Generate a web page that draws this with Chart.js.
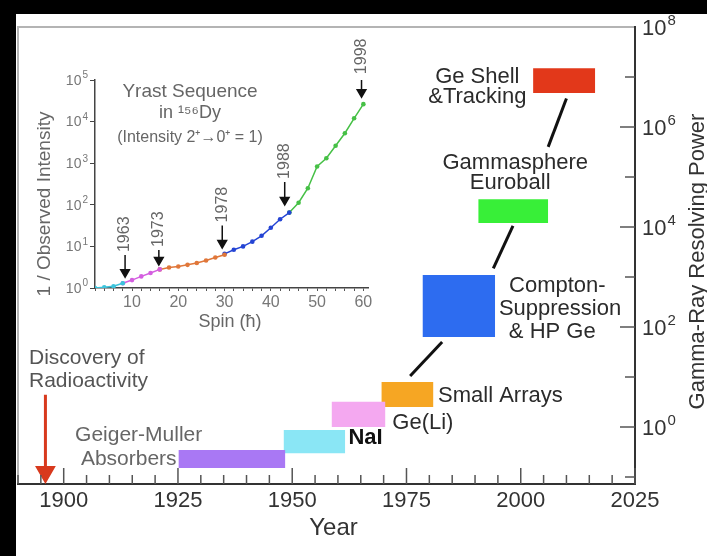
<!DOCTYPE html>
<html lang="en">
<head>
<meta charset="utf-8">
<title>Gamma-Ray Resolving Power</title>
<script src="https://cdn.jsdelivr.net/npm/chart.js@4.4.1/dist/chart.umd.min.js"></script>
<style>
    html, body { margin: 0; padding: 0; background: #000; }
    #wrap { position: relative; width: 707px; height: 556px; }
    #wrap canvas { position: absolute; left: 0; top: 0; }
</style>
</head>
<body>
<div id="wrap">
    <canvas id="main-chart" width="707" height="556"></canvas>
    <canvas id="inset-chart" width="707" height="556"></canvas>
</div>
<script>
// 年の目盛り
const yearTicks = [1900, 1925, 1950, 1975, 2000, 2025];
// 分解能の目盛り（10のべき）
const powerTicks = [0, 2, 4, 6, 8];

// 検出器ごとの箱（開始年・終了年・分解能の下限と上限）
const detectorNames = ['Geiger-Muller Absorbers', 'NaI', 'Ge(Li)', 'Small Arrays', 'Compton-Suppression & HP Ge', 'Gammasphere Euroball', 'Ge Shell & Tracking'];
const detectorStart = [1925.1, 1948.1, 1958.6, 1969.5, 1978.5, 1990.7, 2002.7];
const detectorEnd = [1948.5, 1961.6, 1970.4, 1980.9, 1994.4, 2006.0, 2016.3];
const detectorLow = [0.151, 0.30, 1.0, 2.5, 63, 12000, 4.8e6];
const detectorHigh = [0.347, 0.87, 3.2, 7.9, 1100, 36000, 1.5e7];
const detectorColors = ['#a978f4', '#8ae6f5', '#f4a8f0', '#f6a623', '#2d6cf0', '#38ef38', '#e2381a'];

// 箱をつなぐ線
const linkYears = [[1975.8, 1982.8], [1994.0, 1998.3], [2006.0, 2010.0]];
const linkValues = [[10.5, 50], [1480, 10500], [4.0e5, 3.7e6]];

// 放射能の発見（矢印）
const discoveryYear = 1896;
const discoveryValues = [4.4, 0.126];

// 挿入図：156Dy のイラスト系列
const spinTicks = [10, 20, 30, 40, 50, 60];
const intensityTicks = [0, 1, 2, 3, 4, 5];
const yrastColors = ['#3cc4dc', '#d45ee0', '#e0773a', '#2444d4', '#46c046'];
const yrastSpins = [
    [2, 4, 6, 8],
    [8, 10, 12, 14, 16],
    [16, 18, 20, 22, 24, 26, 28, 30],
    [30, 32, 34, 36, 38, 40, 42, 44],
    [44, 46, 48, 50, 52, 54, 56, 58, 60]
];
const yrastValues = [
    [1.0, 1.04, 1.1, 1.3],
    [1.3, 1.55, 1.9, 2.3, 2.8],
    [2.8, 3.1, 3.3, 3.6, 4.0, 4.6, 5.4, 6.3],
    [6.6, 8.3, 10, 13, 18, 28, 45, 65],
    [65, 112, 250, 830, 1320, 2630, 5250, 12000, 26300]
];
// 年ごとの到達点（矢印）
const markYears = ['1963', '1973', '1978', '1988', '1998'];
const markSpins = [8.5, 15.8, 29.5, 43, 59.6];
const markTop = [6.2, 8.2, 32, 355, 117000];
const markEnd = [2.4, 4.7, 12, 131, 51000];

const FAM = "'Liberation Sans', Arial, sans-serif";
Chart.defaults.font.family = FAM;

function drawLine(c, x1, y1, x2, y2) {
    c.beginPath();
    c.moveTo(x1, y1);
    c.lineTo(x2, y2);
    c.stroke();
}

// 10のべき乗ラベル（上付きは小さい文字で）
function drawPow(c, x, y, p, size, supSize, align) {
    c.font = size + 'px ' + FAM;
    const w1 = c.measureText('10').width;
    c.font = supSize + 'px ' + FAM;
    const w2 = c.measureText(String(p)).width;
    const x0 = align === 'right' ? x - w1 - w2 : x;
    c.textAlign = 'left';
    c.textBaseline = 'middle';
    c.font = size + 'px ' + FAM;
    c.fillText('10', x0, y);
    c.font = supSize + 'px ' + FAM;
    c.fillText(String(p), x0 + w1 + 1, y - size * 0.38);
}

// 本体の注記（年・log値で位置を指定）
const mainNotes = [
    { text: 'Ge Shell', year: 1990.5, logv: 7.0, align: 'center' },
    { text: '&Tracking', year: 1990.5, logv: 6.6, align: 'center' },
    { text: 'Gammasphere', year: 1998.8, logv: 5.28, align: 'center' },
    { text: 'Euroball', year: 1997.7, logv: 4.88, align: 'center' },
    { text: 'Compton-', year: 2008.0, logv: 2.82, align: 'center' },
    { text: 'Suppression', year: 2008.6, logv: 2.36, align: 'center' },
    { text: '& HP Ge', year: 2006.9, logv: 1.9, align: 'center' },
    { text: 'Small Arrays', year: 1981.9, logv: 0.62, align: 'left' },
    { text: 'Ge(Li)', year: 1971.9, logv: 0.08, align: 'left' },
    { text: 'NaI', year: 1962.3, logv: -0.22, align: 'left', bold: true, color: '#111' },
    { text: 'Geiger-Muller', year: 1916.4, logv: -0.16, align: 'center', color: '#666', size: 21 },
    { text: 'Absorbers', year: 1924.7, logv: -0.64, align: 'right', color: '#666', size: 21 },
    { text: 'Discovery of', year: 1892.4, logv: 1.38, align: 'left', color: '#555', size: 21 },
    { text: 'Radioactivity', year: 1892.4, logv: 0.92, align: 'left', color: '#555', size: 21 }
];

const mainDecor = {
    id: 'mainDecor',
    beforeDraw(chart) {
        const c = chart.ctx;
        const a = chart.chartArea;
        c.save();
        c.fillStyle = '#000';
        c.fillRect(0, 0, chart.width, chart.height);
        c.fillStyle = '#fff';
        c.fillRect(16, 14, chart.width - 16, chart.height - 14);
        // 上と左の枠
        c.strokeStyle = '#b4b4b4';
        c.lineWidth = 2;
        c.beginPath();
        c.moveTo(a.left, a.bottom);
        c.lineTo(a.left, a.top);
        c.lineTo(a.right, a.top);
        c.stroke();
        c.restore();
    },
    afterDraw(chart) {
        const c = chart.ctx;
        const a = chart.chartArea;
        const xs = chart.scales.x;
        const ys = chart.scales.y;
        c.save();
        // 内向きの目盛り
        c.strokeStyle = '#555';
        c.lineWidth = 1.5;
        for (let yr = 1890; yr <= 2025; yr += 5) {
            const px = xs.getPixelForValue(yr);
            drawLine(c, px, a.bottom, px, a.bottom - (yr % 25 === 0 ? 16 : 9));
        }
        for (let p = -1; p < 8; p++) {
            const py = ys.getPixelForValue(Math.pow(10, p));
            drawLine(c, a.right, py, a.right - (p % 2 === 0 ? 15 : 10), py);
        }
        // 右軸のラベル
        c.fillStyle = '#333';
        powerTicks.forEach(p => {
            drawPow(c, a.right + 7, ys.getPixelForValue(Math.pow(10, p)) + 2, p, 22, 15, 'left');
        });
        // 注記
        c.textBaseline = 'middle';
        mainNotes.forEach(n => {
            c.font = (n.bold ? 'bold ' : '') + (n.size || 22) + 'px ' + FAM;
            c.fillStyle = n.color || '#2b2b2b';
            c.textAlign = n.align;
            c.fillText(n.text, xs.getPixelForValue(n.year), ys.getPixelForValue(Math.pow(10, n.logv)));
        });
        // 軸タイトル
        c.fillStyle = '#333';
        c.textAlign = 'center';
        c.font = '24px ' + FAM;
        c.fillText('Year', (a.left + a.right) / 2 + 7, 528);
        c.translate(698, (a.top + a.bottom) / 2 + 6);
        c.rotate(-Math.PI / 2);
        c.font = '22px ' + FAM;
        c.fillText('Gamma-Ray Resolving Power', 0, 0);
        c.restore();
    }
};

// 本体のデータセット
const mainDatasets = [];
detectorNames.forEach((name, i) => {
    mainDatasets.push({
        label: name,
        data: [{ x: detectorStart[i], y: detectorHigh[i] }, { x: detectorEnd[i], y: detectorHigh[i] }],
        fill: { value: detectorLow[i] },
        backgroundColor: detectorColors[i],
        borderWidth: 0,
        pointRadius: 0,
        order: 3
    });
});
linkYears.forEach((yrs, i) => {
    mainDatasets.push({
        label: 'link' + i,
        data: [{ x: yrs[0], y: linkValues[i][0] }, { x: yrs[1], y: linkValues[i][1] }],
        borderColor: '#111',
        borderWidth: 3,
        pointRadius: 0,
        fill: false,
        order: 2
    });
});
mainDatasets.push({
    label: 'Discovery of Radioactivity',
    data: [{ x: discoveryYear, y: discoveryValues[0] }, { x: discoveryYear, y: discoveryValues[1] }],
    borderColor: '#d8391d',
    borderWidth: 3,
    pointStyle: 'triangle',
    pointRadius: [0, 9],
    pointRotation: 180,
    pointBackgroundColor: '#d8391d',
    pointBorderColor: '#d8391d',
    fill: false,
    order: 1
});

new Chart(document.getElementById('main-chart'), {
    type: 'line',
    data: { datasets: mainDatasets },
    options: {
        responsive: false,
        animation: false,
        layout: { padding: { left: 18, top: 27, right: 0, bottom: 0 } },
        plugins: { legend: { display: false }, tooltip: { enabled: false } },
        scales: {
            x: {
                type: 'linear',
                min: 1890,
                max: 2025,
                afterBuildTicks: s => { s.ticks = yearTicks.map(v => ({ value: v })); },
                afterFit: s => { s.height = 72; },
                grid: { display: false, drawTicks: false },
                border: { display: true, color: '#333', width: 2 },
                ticks: { padding: 4, color: '#333', font: { size: 22 }, maxRotation: 0, callback: v => String(v) }
            },
            y: {
                type: 'logarithmic',
                position: 'right',
                min: Math.pow(10, -1.14),
                max: 1e8,
                afterFit: s => { s.width = 72; },
                grid: { display: false, drawTicks: false },
                border: { display: true, color: '#333', width: 2 },
                ticks: { display: false }
            }
        }
    },
    plugins: [mainDecor]
});

// 挿入図の注記
const insetDecor = {
    id: 'insetDecor',
    afterDraw(chart) {
        const c = chart.ctx;
        const a = chart.chartArea;
        const xs = chart.scales.x;
        const ys = chart.scales.y;
        c.save();
        // 縦軸ラベル
        c.fillStyle = '#777';
        intensityTicks.forEach(p => {
            drawPow(c, a.left - 8, ys.getPixelForValue(Math.pow(10, p)) + 1, p, 14, 10, 'right');
        });
        c.fillStyle = '#666';
        c.textAlign = 'center';
        c.textBaseline = 'middle';
        c.font = '19px ' + FAM;
        c.fillText('Yrast Sequence', 190, 92);
        c.font = '18px ' + FAM;
        c.fillText('in ¹⁵⁶Dy', 190, 113);
        c.font = '16px ' + FAM;
        c.fillText('(Intensity 2⁺→0⁺ = 1)', 190, 138);
        c.font = '18px ' + FAM;
        c.fillText('Spin (ħ)', 230, 322);
        // 年のラベル
        c.font = '16px ' + FAM;
        c.textAlign = 'left';
        markYears.forEach((yr, i) => {
            c.save();
            c.translate(xs.getPixelForValue(markSpins[i]), ys.getPixelForValue(markTop[i]) - 3);
            c.rotate(-Math.PI / 2);
            c.fillText(yr, 0, 0);
            c.restore();
        });
        c.font = '19px ' + FAM;
        c.textAlign = 'center';
        c.translate(45, 204);
        c.rotate(-Math.PI / 2);
        c.fillText('1 / Observed Intensity', 0, 0);
        c.restore();
    }
};

const insetDatasets = [];
yrastSpins.forEach((sp, i) => {
    insetDatasets.push({
        label: 'seg' + i,
        data: sp.map((s, k) => ({ x: s, y: yrastValues[i][k] })),
        borderColor: yrastColors[i],
        backgroundColor: yrastColors[i],
        borderWidth: 1.5,
        pointRadius: 2.3,
        pointBorderWidth: 0,
        fill: false
    });
});
markYears.forEach((yr, i) => {
    insetDatasets.push({
        label: yr,
        data: [{ x: markSpins[i], y: markTop[i] }, { x: markSpins[i], y: markEnd[i] }],
        borderColor: '#111',
        borderWidth: 1.5,
        pointStyle: 'triangle',
        pointRadius: [0, 5],
        pointRotation: 180,
        pointBackgroundColor: '#111',
        pointBorderColor: '#111',
        fill: false
    });
});

new Chart(document.getElementById('inset-chart'), {
    type: 'line',
    data: { datasets: insetDatasets },
    options: {
        responsive: false,
        animation: false,
        layout: { padding: { left: 0, top: 80, right: 339, bottom: 0 } },
        plugins: { legend: { display: false }, tooltip: { enabled: false } },
        scales: {
            x: {
                type: 'linear',
                min: 2,
                max: 61,
                afterFit: s => { s.height = 268; },
                grid: { drawOnChartArea: false, tickLength: 3, color: '#555' },
                border: { display: true, color: '#444', width: 1.5 },
                ticks: {
                    stepSize: 2,
                    includeBounds: false,
                    autoSkip: false,
                    maxRotation: 0,
                    minRotation: 0,
                    padding: 2,
                    color: '#777',
                    font: { size: 16 },
                    callback: v => spinTicks.includes(Math.round(v)) ? String(Math.round(v)) : ''
                }
            },
            y: {
                type: 'logarithmic',
                min: 1,
                max: 1e5,
                afterBuildTicks: s => { s.ticks = intensityTicks.map(p => ({ value: Math.pow(10, p) })); },
                afterFit: s => { s.width = 95; },
                grid: { drawOnChartArea: false, tickLength: 5, color: '#444' },
                border: { display: true, color: '#444', width: 1.5 },
                ticks: { display: false }
            }
        }
    },
    plugins: [insetDecor]
});
</script>
</body>
</html>
